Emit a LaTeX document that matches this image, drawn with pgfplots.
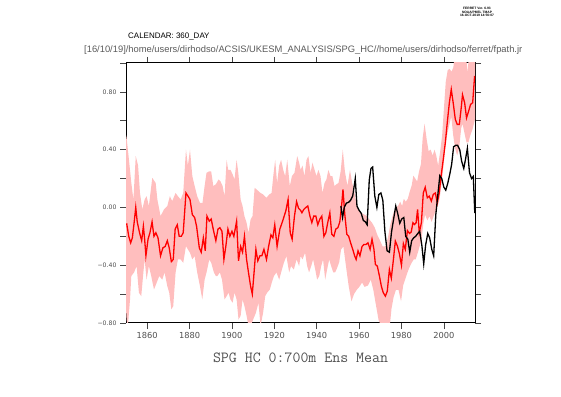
\documentclass[border=0pt]{standalone}
\usepackage{pgfplots}
\pgfplotsset{compat=1.18}
\usepackage{fontspec}
\setmainfont{Liberation Sans}
\newfontfamily\tickfont{DejaVu Sans}
\definecolor{bandpink}{RGB}{255,190,190}
\definecolor{labgray}{RGB}{80,80,80}
\definecolor{pathgray}{RGB}{90,90,90}
\definecolor{tickgray}{RGB}{70,70,70}
\begin{document}
\begin{tikzpicture}
\path (0bp,0bp) rectangle (561bp,397bp);
\begin{axis}[
  at={(126bp,74bp)}, anchor=south west,
  scale only axis, width=349bp, height=260bp,
  xmin=1850, xmax=2014.7, ymin=-0.8, ymax=1.0,
  xtick={1860,1880,1900,1920,1940,1960,1980,2000},
  xticklabels={1860,1880,1900,1920,1940,1960,1980,2000},
  ytick={-0.8,-0.4,0,0.4,0.8},
  yticklabels={−0.80,−0.40,0.00,0.40,0.80},
  minor ytick={-0.6,-0.2,0.2,0.6,1.0},
  /pgf/number format/assume math mode=true,
  /pgf/number format/1000 sep={},
  xticklabel style={font=\tickfont\fontsize{8.3}{9}\selectfont, text=labgray},
  yticklabel style={font=\tickfont\fontsize{6.2}{7}\selectfont, text=labgray},
  tick align=outside,
  major tick length=6bp, minor tick length=6bp,
  every tick/.style={tickgray, line width=0.7bp},
  axis line style={line width=1bp},
  xlabel={\ttfamily\fontsize{15.5}{16}\selectfont SPG HC 0:700m Ens Mean},
  xlabel style={at={(axis description cs:0.5,0)}, anchor=center, yshift=-35bp, text=labgray},
]
% ensemble spread (upper edge, then lower edge reversed)
\addplot[fill=bandpink, draw=none] coordinates {
(1850,0.50)(1850.3,0.48)(1851.4,0.33)(1852.5,0.17)(1853.5,0.055)(1854.6,0.355)(1855.7,0.29)(1856.6,0.10)(1857.7,-0.014)(1858.8,0.055)(1859.7,0.078)(1860.8,0.01)(1862.4,0.205)(1864.0,0.17)(1864.8,0.055)(1866.3,-0.06)(1867.9,-0.014)(1869.5,0.01)(1870.7,0.078)(1871.8,0.044)(1873.4,0.10)(1874.5,0.078)(1875.8,0.055)(1877.0,0.10)(1878.3,0.40)(1879.2,0.29)(1880.2,0.40)(1881.3,0.217)(1882.4,0.148)(1883.6,0.078)(1884.9,0.032)(1886.1,0.032)(1887.1,0.148)(1888.0,0.24)(1889.3,0.25)(1890.2,0.25)(1891.2,0.148)(1892.4,0.16)(1893.7,0.194)(1894.6,0.18)(1895.6,0.148)(1896.5,0.078)(1897.5,0.33)(1898.2,0.26)(1899.3,0.26)(1900.3,0.23)(1901.2,0.194)(1902.2,0.33)(1903.0,0.24)(1904.1,0.055)(1905.0,0.01)(1905.9,-0.06)(1906.9,-0.106)(1907.8,-0.175)(1908.8,-0.083)(1909.7,-0.06)(1910.7,0.136)(1911.6,0.125)(1912.5,0.113)(1913.5,0.10)(1914.7,0.09)(1916.3,0.067)(1917.6,0.09)(1918.7,0.10)(1919.5,0.217)(1920.4,0.33)(1921.3,0.17)(1922.3,0.29)(1923.2,0.33)(1924.2,0.26)(1925.1,0.217)(1926.1,0.33)(1927.3,0.148)(1928.3,0.217)(1929.5,0.24)(1930.8,0.355)(1931.7,0.31)(1932.4,0.26)(1933.3,0.29)(1934.2,0.217)(1935.2,0.33)(1936.1,0.355)(1937.1,0.24)(1938.0,0.31)(1939.0,0.26)(1939.9,0.217)(1940.8,0.26)(1941.8,0.217)(1942.7,0.10)(1943.7,0.17)(1944.6,0.194)(1945.5,0.26)(1946.5,0.217)(1947.4,0.217)(1948.4,0.148)(1949.3,0.16)(1950.3,0.17)(1951.3,0.25)(1952.3,0.40)(1953.3,0.25)(1954.5,0.15)(1955.7,0.26)(1956.7,0.17)(1957.6,0.125)(1958.6,0.032)(1959.8,-0.014)(1961.1,-0.037)(1962.3,-0.048)(1963.6,-0.06)(1964.8,-0.083)(1966.1,-0.106)(1967.4,-0.14)(1968.6,-0.19)(1969.9,-0.23)(1971.1,-0.27)(1972.4,-0.27)(1973.6,-0.21)(1974.7,-0.12)(1975.6,-0.07)(1976.4,-0.03)(1977.3,0.0)(1978.4,0.01)(1979.4,0.04)(1980.3,0.01)(1981.1,0.06)(1982.0,0.04)(1983.0,0.06)(1983.9,0.11)(1984.8,0.15)(1985.6,0.22)(1986.5,0.20)(1987.4,0.18)(1988.3,0.25)(1989.2,0.30)(1990.0,0.48)(1990.9,0.58)(1991.9,0.47)(1992.8,0.39)(1993.8,0.40)(1994.7,0.36)(1995.6,0.40)(1996.4,0.36)(1997.3,0.29)(1998.2,0.38)(1999.2,0.50)(2000.1,0.70)(2000.9,0.87)(2001.8,0.95)(2002.7,0.96)(2003.6,0.94)(2004.5,0.97)(2005.0,1.05)(2010.5,1.05)(2011.2,0.93)(2011.8,1.05)(2014.7,1.05)
(2014.7,0.61)(2013.5,0.54)(2012.5,0.50)(2011.6,0.45)(2010.7,0.45)(2009.8,0.51)(2008.8,0.58)(2008.2,0.55)(2007.2,0.41)(2006.3,0.36)(2005.3,0.41)(2004.4,0.50)(2003.5,0.63)(2002.7,0.58)(2001.8,0.52)(2000.8,0.44)(1999.9,0.30)(1999.0,0.17)(1998.0,0.06)(1997.1,0.01)(1996.2,-0.02)(1995.2,-0.06)(1994.2,-0.10)(1993.2,-0.06)(1992.2,-0.09)(1991.2,-0.05)(1990.3,-0.11)(1989.6,-0.21)(1988.6,-0.268)(1987.7,-0.314)(1986.7,-0.36)(1985.8,-0.36)(1984.8,-0.383)(1983.6,-0.42)(1982.6,-0.46)(1981.7,-0.50)(1980.8,-0.54)(1979.8,-0.65)(1978.6,-0.57)(1977.4,-0.57)(1976.3,-0.62)(1975.3,-0.70)(1974.5,-0.82)(1970.5,-0.82)(1969.2,-0.78)(1968.0,-0.68)(1966.7,-0.57)(1965.5,-0.50)(1964.2,-0.54)(1962.6,-0.55)(1961.4,-0.52)(1960.1,-0.55)(1958.9,-0.57)(1957.6,-0.60)(1956.4,-0.65)(1955.1,-0.545)(1953.8,-0.406)(1952.6,-0.27)(1951.5,-0.29)(1950.6,-0.38)(1949.6,-0.42)(1948.7,-0.45)(1947.8,-0.45)(1946.8,-0.406)(1945.9,-0.36)(1944.9,-0.43)(1944.0,-0.50)(1943.0,-0.36)(1942.1,-0.406)(1941.2,-0.475)(1940.2,-0.50)(1939.3,-0.43)(1938.3,-0.36)(1937.4,-0.406)(1936.4,-0.45)(1935.5,-0.406)(1934.5,-0.314)(1933.3,-0.36)(1932.4,-0.337)(1931.7,-0.406)(1930.5,-0.36)(1929.2,-0.43)(1927.9,-0.406)(1927.0,-0.45)(1925.7,-0.337)(1924.5,-0.383)(1923.2,-0.45)(1922.3,-0.50)(1921.0,-0.45)(1919.8,-0.475)(1918.8,-0.52)(1917.9,-0.568)(1916.6,-0.59)(1915.7,-0.614)(1914.7,-0.73)(1913.5,-0.82)(1912.5,-0.66)(1911.3,-0.73)(1910.0,-0.776)(1908.8,-0.82)(1907.8,-0.82)(1906.9,-0.75)(1905.9,-0.683)(1905.0,-0.637)(1904.1,-0.75)(1903.1,-0.776)(1902.2,-0.637)(1901.2,-0.59)(1900.3,-0.66)(1899.3,-0.637)(1898.4,-0.59)(1897.5,-0.614)(1896.5,-0.637)(1895.3,-0.50)(1894.3,-0.45)(1893.1,-0.475)(1892.4,-0.475)(1891.5,-0.45)(1890.2,-0.383)(1889.3,-0.36)(1888.0,-0.45)(1887.1,-0.50)(1886.0,-0.637)(1884.9,-0.545)(1883.6,-0.45)(1882.4,-0.337)(1881.3,-0.36)(1880.2,-0.314)(1879.2,-0.29)(1878.3,-0.268)(1877.0,-0.383)(1875.8,-0.36)(1874.5,-0.36)(1873.4,-0.45)(1872.3,-0.683)(1871.4,-0.706)(1870.4,-0.59)(1869.5,-0.545)(1868.2,-0.45)(1867.1,-0.50)(1865.7,-0.475)(1864.5,-0.52)(1863.2,-0.568)(1861.9,-0.475)(1860.8,-0.406)(1859.7,-0.50)(1858.8,-0.36)(1858.2,-0.45)(1857.2,-0.614)(1856.1,-0.59)(1855.0,-0.406)(1853.8,-0.45)(1852.5,-0.475)(1851.9,-0.637)(1850.9,-0.82)(1850.3,-0.78)(1850,-0.70)
} -- cycle;
% ensemble mean (red)
\addplot[red, line width=1.3bp] coordinates {
(1850.3,-0.11)(1851.3,-0.20)(1852.2,-0.245)(1853.0,-0.21)(1853.8,-0.11)(1854.6,0.00)(1855.3,-0.10)(1856.4,-0.175)(1857.4,-0.23)(1858.2,-0.13)(1858.8,-0.22)(1859.4,-0.335)(1860.4,-0.22)(1861.3,-0.175)(1862.3,-0.10)(1863.2,-0.20)(1864.1,-0.175)(1865.1,-0.21)(1866.3,-0.335)(1867.4,-0.28)(1868.5,-0.27)(1869.5,-0.23)(1870.4,-0.28)(1871.4,-0.375)(1872.3,-0.36)(1873.2,-0.15)(1874.2,-0.12)(1875.1,-0.20)(1876.1,-0.20)(1877.0,-0.175)(1878.3,0.10)(1879.2,0.08)(1880.2,0.055)(1881.3,-0.05)(1882.4,-0.07)(1883.3,-0.13)(1884.6,-0.28)(1885.5,-0.31)(1886.5,-0.21)(1887.4,-0.30)(1888.2,-0.06)(1889.3,-0.095)(1890.2,-0.08)(1891.3,-0.16)(1892.4,-0.23)(1893.4,-0.15)(1894.3,-0.14)(1895.3,-0.165)(1896.2,-0.36)(1897.1,-0.27)(1898.1,-0.15)(1899.0,-0.20)(1900.0,-0.165)(1900.9,-0.20)(1902.2,-0.095)(1903.1,-0.37)(1904.1,-0.27)(1905.0,-0.31)(1905.9,-0.20)(1906.9,-0.36)(1907.8,-0.45)(1908.8,-0.545)(1909.6,-0.60)(1910.3,-0.475)(1911.3,-0.29)(1912.2,-0.37)(1913.2,-0.335)(1914.1,-0.335)(1915.1,-0.29)(1916.3,-0.36)(1917.3,-0.27)(1918.4,-0.19)(1919.3,-0.21)(1920.2,-0.12)(1921.3,-0.27)(1922.6,-0.15)(1923.9,-0.095)(1925.4,-0.025)(1926.5,0.055)(1927.5,-0.175)(1928.4,-0.22)(1929.5,-0.06)(1930.5,0.04)(1931.4,-0.005)(1932.4,-0.02)(1933.0,-0.037)(1933.9,-0.014)(1934.9,0.0)(1935.8,0.01)(1936.8,-0.06)(1937.7,-0.105)(1938.6,-0.06)(1939.6,-0.06)(1940.5,-0.12)(1941.5,-0.08)(1942.4,-0.06)(1943.4,-0.20)(1944.3,-0.175)(1945.2,-0.105)(1946.2,-0.037)(1947.1,-0.185)(1948.1,-0.20)(1949.0,-0.15)(1950.0,-0.14)(1950.9,-0.10)(1951.8,0.02)(1952.4,0.125)(1953.2,-0.04)(1954.2,-0.185)(1955.1,-0.20)(1956.0,-0.245)(1957.0,-0.29)(1957.9,-0.335)(1958.6,-0.36)(1959.5,-0.30)(1960.4,-0.335)(1961.4,-0.27)(1962.3,-0.256)(1963.3,-0.256)(1964.2,-0.245)(1965.2,-0.29)(1966.1,-0.22)(1967.0,-0.29)(1967.7,-0.395)(1968.6,-0.406)(1969.6,-0.475)(1970.5,-0.545)(1971.4,-0.59)(1972.4,-0.614)(1973.3,-0.58)(1974.3,-0.43)(1975.2,-0.49)(1976.2,-0.36)(1977.1,-0.233)(1978.1,-0.268)(1979.0,-0.32)(1980.0,-0.40)(1980.9,-0.25)(1981.8,-0.29)(1982.8,-0.16)(1983.8,-0.18)(1984.6,-0.17)(1985.4,-0.106)(1986.2,-0.118)(1986.9,-0.106)(1987.6,-0.014)(1988.4,-0.175)(1989.4,-0.106)(1990.3,0.10)(1991.2,0.14)(1992.2,0.067)(1993.1,0.078)(1994.1,0.044)(1995.0,0.09)(1996.0,0.10)(1996.9,0.032)(1997.8,0.10)(1998.8,0.228)(1999.7,0.33)(2000.7,0.448)(2001.6,0.586)(2002.6,0.725)(2003.5,0.817)(2004.4,0.725)(2005.4,0.61)(2006.3,0.575)(2007.3,0.575)(2008.2,0.69)(2008.8,0.78)(2009.8,0.725)(2010.7,0.62)(2011.7,0.667)(2012.6,0.713)(2013.6,0.725)(2014.5,0.91)
};
% observations (black)
\addplot[black, line width=1.3bp] coordinates {
(1951.4,0.01)(1952.2,-0.07)(1953.0,0.0)(1954.0,0.03)(1955.0,0.035)(1956.0,0.05)(1957.0,0.08)(1958.2,0.20)(1959.0,0.01)(1960.0,-0.02)(1961.0,-0.04)(1962.0,-0.09)(1963.0,-0.10)(1963.8,-0.12)(1964.8,0.19)(1965.6,0.27)(1966.4,0.28)(1967.4,0.08)(1968.4,0.0)(1969.3,0.09)(1970.3,0.10)(1971.2,0.05)(1972.2,-0.17)(1973.2,-0.30)(1974.3,-0.31)(1975.3,-0.17)(1976.3,-0.08)(1977.3,0.01)(1978.2,-0.04)(1979.2,-0.11)(1980.1,-0.08)(1981.1,-0.07)(1982.0,-0.20)(1983.0,-0.22)(1983.9,-0.31)(1984.8,-0.23)(1985.8,-0.21)(1986.7,-0.20)(1987.7,-0.18)(1988.6,-0.165)(1989.6,-0.26)(1990.5,-0.39)(1991.4,-0.26)(1992.4,-0.18)(1993.3,-0.21)(1994.3,-0.29)(1995.2,-0.335)(1996.2,-0.05)(1997.1,0.08)(1998.1,0.22)(1999.0,0.20)(2000.0,0.14)(2000.9,0.12)(2001.8,0.165)(2002.8,0.23)(2003.7,0.30)(2004.6,0.42)(2005.6,0.43)(2006.5,0.43)(2007.5,0.40)(2008.4,0.32)(2009.4,0.27)(2010.3,0.34)(2011.1,0.41)(2012.1,0.24)(2013.1,0.20)(2013.9,0.215)(2014.6,-0.04)
};
\end{axis}
\node[anchor=west, inner sep=0pt, font=\fontsize{8}{9}\selectfont] at (128bp,360bp) {CALENDAR: 360\_DAY};
\node[anchor=west, inner sep=0pt, text=pathgray, font=\fontsize{9.4}{10}\selectfont] at (84bp,347bp) {[16/10/19]/home/users/dirhodso/ACSIS/UKESM\_ANALYSIS/SPG\_HC//home/users/dirhodso/ferret/fpath.jr};
\node[align=center, inner sep=0pt, font=\fontsize{3.3}{3.6}\selectfont\bfseries] at (477bp,385bp) {FERRET Ver. 6.93\\NOAA/PMEL TMAP\\16-OCT-2019 14:56:07};
\end{tikzpicture}
\end{document}
